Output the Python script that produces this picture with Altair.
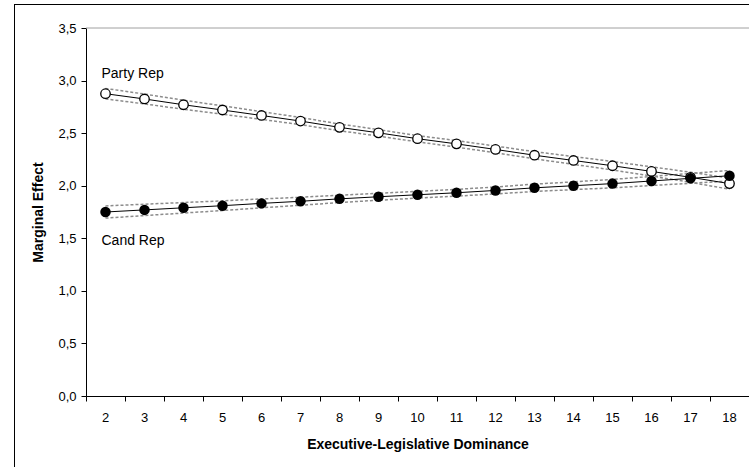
import altair as alt
import pandas as pd

dominance = list(range(2, 19))

party_rep = [2.875, 2.825, 2.77, 2.72, 2.668, 2.615, 2.555, 2.503, 2.447,
             2.398, 2.345, 2.29, 2.24, 2.19, 2.136, 2.08, 2.02]
party_upper = [2.925, 2.872, 2.813, 2.76, 2.705, 2.649, 2.587, 2.534, 2.477,
               2.429, 2.377, 2.324, 2.277, 2.23, 2.18, 2.128, 2.073]
party_lower = [2.825, 2.778, 2.727, 2.68, 2.631, 2.581, 2.523, 2.472, 2.417,
               2.367, 2.313, 2.256, 2.203, 2.15, 2.092, 2.032, 1.967]

cand_rep = [1.75, 1.77, 1.79, 1.81, 1.832, 1.852, 1.875, 1.895, 1.914,
            1.933, 1.955, 1.98, 2.0, 2.02, 2.045, 2.07, 2.095]
cand_upper = [1.808, 1.824, 1.84, 1.856, 1.874, 1.89, 1.91, 1.928, 1.946,
              1.965, 1.988, 2.015, 2.037, 2.06, 2.088, 2.117, 2.145]
cand_lower = [1.692, 1.716, 1.74, 1.764, 1.79, 1.814, 1.84, 1.862, 1.882,
              1.901, 1.922, 1.945, 1.963, 1.98, 2.002, 2.023, 2.045]

label_names = ["Party Rep", "Cand Rep"]
label_x = [2, 2]
label_y = [3.06, 1.47]

W, H = 663, 368

rows = []
for i, d in enumerate(dominance):
    rows.append({"x": d, "series": "Party Rep", "y": party_rep[i]})
    rows.append({"x": d, "series": "Cand Rep", "y": cand_rep[i]})
main = pd.DataFrame(rows)

brows = []
for i, d in enumerate(dominance):
    brows.append({"x": d, "band": "pu", "y": party_upper[i]})
    brows.append({"x": d, "band": "pl", "y": party_lower[i]})
    brows.append({"x": d, "band": "cu", "y": cand_upper[i]})
    brows.append({"x": d, "band": "cl", "y": cand_lower[i]})
bands = pd.DataFrame(brows)

labels = pd.DataFrame({"x": label_x, "y": label_y, "t": label_names})
top = pd.DataFrame({"y": [3.5]})

xenc = alt.X("x:O", title="Executive-Legislative Dominance",
             scale=alt.Scale(type="band", paddingInner=0, paddingOuter=0),
             axis=alt.Axis(bandPosition=0, labelAngle=0, tickSize=5,
                           labelPadding=10, titlePadding=13,
                           domainColor="#000", tickColor="#000"))
yscale = alt.Scale(domain=[0, 3.5], nice=False)
yenc = alt.Y("y:Q", scale=yscale, title="Marginal Effect",
             axis=alt.Axis(values=[0, 0.5, 1, 1.5, 2, 2.5, 3, 3.5],
                           labelExpr="replace(format(datum.value, '.1f'), '.', ',')",
                           tickSize=5, labelPadding=5, titlePadding=12,
                           grid=False, domainColor="#000", tickColor="#000"))

toprule = alt.Chart(top).mark_rule(color="#a0a0a0", strokeWidth=1).encode(
    y=alt.Y("y:Q", scale=yscale), x=alt.value(0), x2=alt.value(W))

band_lines = alt.Chart(bands).mark_line(
    color="#8c8c8c", strokeDash=[3, 2], strokeWidth=1.5).encode(
    x=xenc, y=yenc, detail="band:N")

lines = alt.Chart(main).mark_line(color="#000", strokeWidth=1).encode(
    x=xenc, y=yenc, detail="series:N")

party_pts = alt.Chart(main[main.series == "Party Rep"]).mark_point(
    shape="circle", filled=False, fill="#fff", fillOpacity=1, stroke="#000",
    strokeWidth=1.3, size=90, opacity=1).encode(x=xenc, y=yenc)

cand_pts = alt.Chart(main[main.series == "Cand Rep"]).mark_point(
    shape="circle", filled=True, color="#000", size=110, opacity=1).encode(
    x=xenc, y=yenc)

texts = alt.Chart(labels).mark_text(
    align="left", baseline="middle", dx=-4, fontSize=14,
    font="Liberation Sans", color="#000").encode(x=xenc, y=yenc, text="t:N")

border_h = alt.Chart(top).mark_rule(color="#000", strokeWidth=1).encode(
    x=alt.value(-72), x2=alt.value(W + 10), y=alt.value(-23.5))
border_v = alt.Chart(top).mark_rule(color="#000", strokeWidth=1).encode(
    x=alt.value(-71.5), y=alt.value(-23.5), y2=alt.value(H + 80))

chart = alt.layer(toprule, band_lines, lines, party_pts, cand_pts, texts,
                  border_h, border_v).properties(
    width=W, height=H,
    background="#fff",
    autosize=alt.AutoSizeParams(type="none"),
    padding={"left": 86, "top": 28, "right": 0, "bottom": 71},
).configure_view(stroke=None).configure_axis(
    labelFont="Liberation Sans", titleFont="Liberation Sans",
    labelFontSize=13, titleFontSize=14, titleFontWeight="bold",
    labelColor="#000", titleColor="#000",
)

chart.save("out.html", embed_options={"renderer": "svg", "actions": False})
